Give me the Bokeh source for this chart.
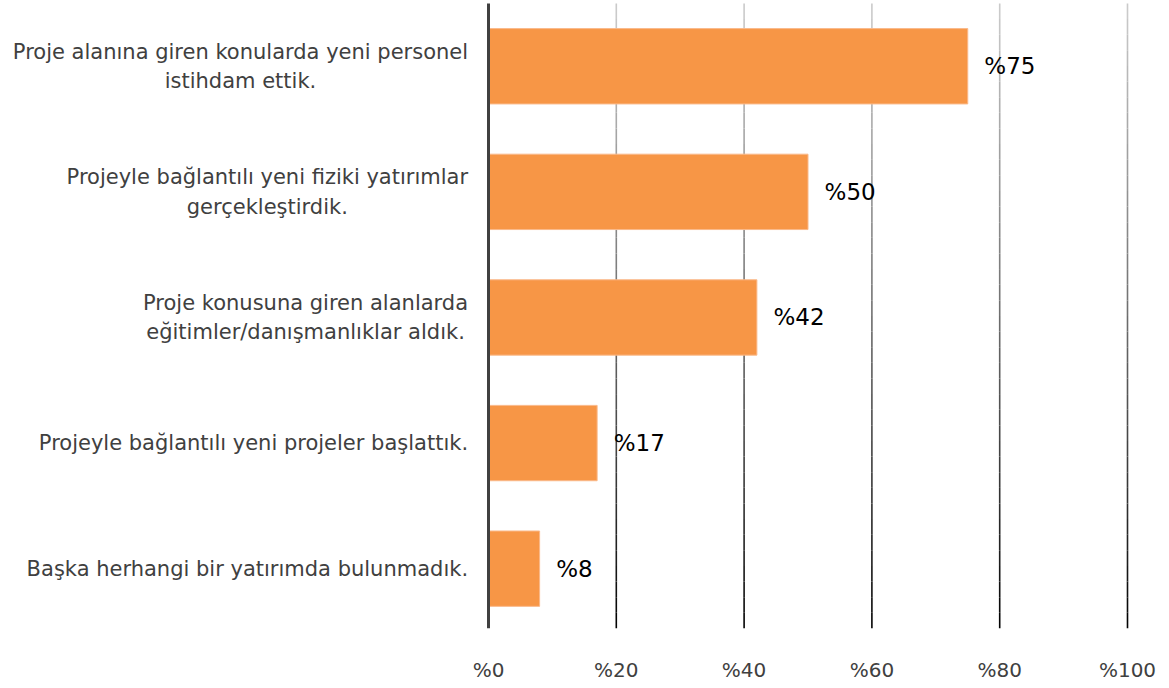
import numpy as np
from bokeh.plotting import figure
from bokeh.models import Range1d, ColumnDataSource, FixedTicker, LinearAxis
from bokeh.core.properties import value
from bokeh.embed import file_html
from bokeh.resources import INLINE

categories = [
    "Proje alanına giren konularda yeni personel\nistihdam ettik.",
    "Projeyle bağlantılı yeni fiziki yatırımlar\ngerçekleştirdik.",
    "Proje konusuna giren alanlarda\neğitimler/danışmanlıklar aldık.",
    "Projeyle bağlantılı yeni projeler başlattık.",
    "Başka herhangi bir yatırımda bulunmadık.",
]
values = [75, 50, 42, 17, 8]
value_labels = ["%75", "%50", "%42", "%17", "%8"]
tick_values = [0, 20, 40, 60, 80, 100]
tick_labels = ["%0", "%20", "%40", "%60", "%80", "%100"]

W, H = 1162, 684
ppu = 6.39            # pixels per percent
x0_px = 488           # canvas px of 0
band = 127.0          # px per category
c0 = 66.5             # canvas px center of first category
frame_h = 635

x_start = -x0_px / ppu
x_end = (W - x0_px) / ppu
y_top = -c0 / band
y_bot = (frame_h - c0) / band

p = figure(width=W, height=H, output_backend="svg", toolbar_location=None,
           x_range=Range1d(x_start, x_end), y_range=Range1d(y_bot, y_top),
           min_border_left=0, min_border_right=0, min_border_top=0,
           min_border_bottom=H - frame_h, x_axis_location=None, y_axis_location=None)
p.outline_line_color = None
p.xgrid.visible = False
p.ygrid.visible = False
p.background_fill_color = "white"
p.border_fill_color = "white"

ys = list(range(len(categories)))

# gradient gridlines
nseg = 40
g_top, g_bot = -0.5, y_bot
edges = np.linspace(g_top, g_bot, nseg + 1)
gx, gy0, gy1, gc = [], [], [], []
for t in tick_values[1:]:
    for k in range(nseg):
        f = (k + 0.5) / nseg
        c = int(205 * (1 - f) ** 0.9)
        gx.append(t); gy0.append(edges[k]); gy1.append(edges[k + 1])
        gc.append("#%02x%02x%02x" % (c, c, c))
p.segment(x0=gx, y0=gy0, x1=gx, y1=gy1, line_color=gc, line_width=1.6)

src = ColumnDataSource(dict(y=ys, v=values, lab=value_labels, cat=categories,
                            lx=[v + 2.6 for v in values]))
p.hbar(y="y", left=0, right="v", height=0.6, source=src,
       fill_color="#F79646", line_color="#FAB98A", line_width=1)

# vertical axis line at 0
p.segment(x0=[0], y0=[g_top], x1=[0], y1=[g_bot], line_color="#404040", line_width=3)

p.text(x="lx", y="y", text="lab", source=src, text_font=value("DejaVu Sans"),
       text_font_size="23px", text_color="#000000", text_align="left",
       text_baseline="middle")

p.text(x=-3.2, y="y", text="cat", source=src, text_font=value("DejaVu Sans"),
       text_font_size="21px", text_color="#404040", text_align="center",
       anchor=value("center_right"), text_line_height=1.23)

ax = LinearAxis(ticker=FixedTicker(ticks=tick_values))
ax.major_label_overrides = {t: l for t, l in zip(tick_values, tick_labels)}
ax.axis_line_color = None
ax.major_tick_line_color = None
ax.minor_tick_line_color = None
ax.major_label_standoff = 23
ax.major_label_text_font = "DejaVu Sans"
ax.major_label_text_font_size = "20px"
ax.major_label_text_color = "#404040"
p.add_layout(ax, "below")

open("out.html", "w").write(file_html(p, INLINE))
